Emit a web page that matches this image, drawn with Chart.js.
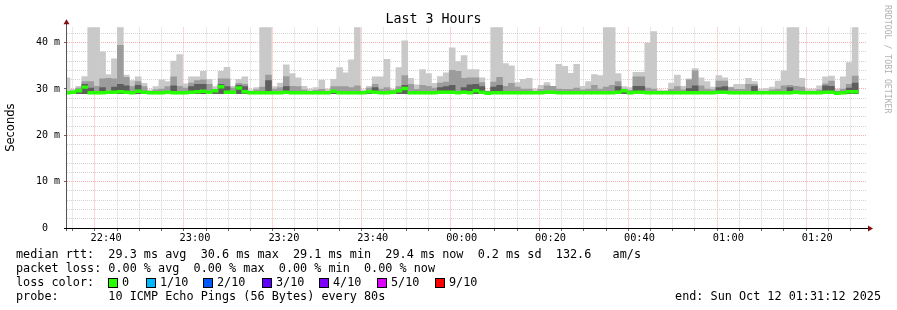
<!DOCTYPE html>
<html>
<head>
<meta charset="utf-8">
<script src="https://cdn.jsdelivr.net/npm/chart.js@4.4.1/dist/chart.umd.min.js"></script>
<style>
  body { margin: 0; background: #fff; }
  #wrap { position: relative; width: 897px; height: 310px; overflow: hidden; }
  #chart { position: absolute; left: 0; top: 0; }
  .line { position: absolute; font-family: 'DejaVu Sans Mono', monospace; font-size: 11.8px; line-height: 14px; color: #000; white-space: pre; }
  .box { position: absolute; width: 8px; height: 8px; border: 1px solid #000; top: 278px; }
  #mark { position: absolute; left: 893px; top: 5px; transform: rotate(90deg); transform-origin: top left; font-family: 'DejaVu Sans Mono', monospace; font-size: 8.2px; color: #b0b0b0; white-space: pre; }
</style>
</head>
<body>
<div id="wrap">
  <canvas id="chart" width="897" height="310"></canvas>
  <div class="line" style="left:16px;top:247px">median rtt:  29.3 ms avg  30.6 ms max  29.1 ms min  29.4 ms now  0.2 ms sd  132.6   am/s</div>
  <div class="line" style="left:16px;top:261px">packet loss: 0.00 % avg  0.00 % max  0.00 % min  0.00 % now</div>
  <div class="line" style="left:16px;top:275px">loss color:</div>
  <div id="lossRow"></div>
  <div class="line" style="left:16px;top:289px">probe:       10 ICMP Echo Pings (56 Bytes) every 80s</div>
  <div class="line" style="right:16px;top:289px">end: Sun Oct 12 01:31:12 2025</div>
  <div id="mark">RRDTOOL / TOBI OETIKER</div>
</div>
<script>
const _ = (id) => document.getElementById(id)

// one sample every 80 s, first sample at the graph start (22:31:12)
const stepSeconds = 80
const startClock = '22:31:12'
const smokeFloor = 29.0

// top of the lightest smoke (max ping), ms
const maxRtt = [
  32.4, 29.9, 30.6, 32.7, 43.3, 43.3, 38.0, 33.1, 36.5, 43.3,
  33.0, 31.8, 32.6, 31.2, 29.8, 30.5, 32.0, 31.6, 36.0, 37.4,
  31.1, 32.6, 32.6, 33.8, 32.1, 30.5, 33.8, 34.7, 30.6, 32.1,
  32.6, 29.8, 30.3, 43.3, 43.3, 30.5, 31.3, 35.2, 33.3, 32.4,
  30.6, 30.0, 30.3, 31.9, 30.0, 32.1, 34.6, 33.5, 36.3, 43.3,
  29.8, 30.6, 32.6, 32.6, 36.4, 30.0, 34.6, 40.4, 32.3, 30.9,
  34.2, 33.3, 31.2, 32.7, 33.5, 38.9, 35.9, 37.2, 34.2, 34.2,
  32.4, 29.6, 43.3, 43.3, 35.5, 35.0, 31.4, 32.1, 32.3, 30.0,
  30.8, 31.4, 30.6, 35.3, 34.9, 33.4, 35.3, 30.6, 31.6, 33.1,
  32.9, 43.3, 43.3, 33.3, 30.5, 30.3, 33.6, 33.6, 39.9, 42.4,
  29.8, 29.7, 31.3, 33.0, 30.6, 32.2, 34.4, 32.4, 31.6, 30.4,
  32.9, 32.4, 30.4, 31.0, 31.0, 32.3, 31.6, 30.0, 30.1, 30.4,
  31.7, 33.9, 43.3, 43.3, 32.3, 30.0, 30.0, 30.7, 32.6, 32.8,
  30.0, 32.6, 35.7, 43.3,
]

// top of the medium smoke band
const midRtt = [
  29.4, 29.4, 30.2, 31.6, 31.6, 30.6, 32.2, 32.3, 32.2, 39.4,
  32.5, 30.5, 31.6, 30.5, 29.4, 29.8, 30.0, 30.5, 32.6, 30.6,
  30.2, 31.3, 31.8, 32.0, 31.0, 29.9, 32.2, 32.2, 30.2, 31.2,
  31.0, 29.4, 29.8, 30.4, 33.0, 30.0, 30.3, 32.7, 30.6, 30.5,
  29.8, 29.4, 29.7, 29.9, 29.4, 30.5, 30.5, 30.5, 30.3, 30.7,
  29.4, 30.2, 31.0, 30.0, 30.3, 29.7, 30.5, 32.9, 31.0, 29.9,
  30.8, 30.6, 30.2, 31.3, 31.5, 34.0, 33.8, 32.3, 32.4, 32.4,
  31.4, 29.4, 31.5, 32.5, 30.6, 31.2, 30.4, 30.0, 30.0, 29.4,
  29.9, 30.7, 30.6, 30.0, 29.9, 29.9, 30.2, 29.8, 30.0, 30.8,
  30.0, 30.4, 30.8, 31.6, 30.0, 29.7, 32.6, 32.6, 30.2, 30.0,
  29.4, 29.4, 29.9, 30.5, 29.8, 32.0, 33.9, 30.7, 30.0, 29.8,
  31.7, 31.7, 30.3, 29.9, 29.9, 31.0, 31.0, 29.4, 29.4, 29.8,
  30.0, 30.7, 30.8, 30.6, 30.4, 29.4, 29.4, 29.8, 31.1, 31.7,
  29.4, 30.0, 31.0, 32.8,
]

// top of the dark smoke band
const darkRtt = [
  29.4, 29.4, 29.8, 31.0, 30.2, 29.4, 30.3, 29.4, 30.4, 31.0,
  30.7, 29.4, 30.8, 29.4, 29.4, 29.4, 29.4, 29.4, 30.7, 29.4,
  29.4, 30.5, 31.0, 31.0, 29.4, 29.4, 31.0, 30.5, 29.4, 30.8,
  30.5, 29.4, 29.4, 29.4, 31.8, 29.4, 29.4, 30.5, 29.4, 29.4,
  29.4, 29.4, 29.4, 29.4, 29.4, 29.4, 29.4, 29.4, 29.4, 29.4,
  29.4, 29.4, 30.3, 29.4, 29.4, 29.4, 29.4, 30.8, 29.4, 29.4,
  29.4, 29.4, 29.4, 30.3, 30.5, 30.8, 29.4, 30.3, 30.9, 31.0,
  30.5, 29.4, 30.4, 30.8, 29.4, 29.4, 29.4, 29.4, 29.4, 29.4,
  29.4, 29.4, 29.4, 29.4, 29.4, 29.4, 29.4, 29.4, 29.4, 29.4,
  29.4, 29.4, 29.4, 30.5, 29.4, 29.4, 30.6, 30.6, 29.4, 29.4,
  29.4, 29.4, 29.4, 29.4, 29.4, 30.1, 30.7, 29.4, 29.4, 29.4,
  30.3, 30.5, 29.4, 29.4, 29.4, 29.4, 30.6, 29.4, 29.4, 29.4,
  29.4, 29.4, 30.3, 29.4, 29.4, 29.4, 29.4, 29.4, 30.7, 30.6,
  29.4, 29.4, 30.2, 31.3,
]

// median rtt (0 loss everywhere)
const medianRtt = [
  29.2, 29.3, 29.6, 30.4, 29.2, 29.2, 29.2, 29.3, 29.3, 29.4,
  29.3, 29.2, 29.5, 29.3, 29.2, 29.2, 29.2, 29.3, 29.2, 29.2,
  29.2, 29.3, 29.4, 29.5, 29.3, 29.6, 30.5, 29.3, 29.3, 30.2,
  29.4, 29.2, 29.2, 29.2, 29.2, 29.2, 29.2, 29.3, 29.2, 29.2,
  29.2, 29.2, 29.2, 29.2, 29.2, 29.5, 29.2, 29.2, 29.2, 29.2,
  29.2, 29.4, 29.3, 29.2, 29.2, 29.3, 29.6, 30.1, 29.2, 29.2,
  29.2, 29.2, 29.2, 29.3, 29.3, 29.3, 29.2, 29.3, 29.2, 29.6,
  29.3, 29.1, 29.2, 29.2, 29.2, 29.2, 29.2, 29.2, 29.2, 29.2,
  29.2, 29.3, 29.3, 29.2, 29.2, 29.2, 29.2, 29.2, 29.2, 29.2,
  29.2, 29.2, 29.2, 29.3, 29.6, 29.2, 29.3, 29.3, 29.2, 29.2,
  29.2, 29.2, 29.2, 29.2, 29.2, 29.2, 29.2, 29.2, 29.2, 29.2,
  29.3, 29.3, 29.2, 29.2, 29.2, 29.2, 29.2, 29.2, 29.2, 29.2,
  29.2, 29.2, 29.2, 29.3, 29.2, 29.2, 29.2, 29.2, 29.3, 29.3,
  29.1, 29.2, 29.4, 29.4,
]

const lossColors = ['#26ff00', '#00b8ff', '#0059ff', '#5e00ff', '#7e00ff', '#dd00ff', '#ff0000']
const lossLabels = ['0', '1/10', '2/10', '3/10', '4/10', '5/10', '9/10']
const lossBoxX = [108, 146, 203, 262, 319, 377, 435]

const [sh, sm, ss] = startClock.split(':').map(Number)
const startMin = sh * 60 + sm + ss / 60
const spanMin = 180
const stepMin = stepSeconds / 60
const firstMark = 5 - (startMin % 5)

const clockOf = (v) => {
  const m = Math.round(startMin + v) % 1440
  return { h: Math.floor(m / 60), m: m % 60 }
}
const isMajorX = (v) => clockOf(v).m % 20 === 0
const band = (lo, hi) => hi.map((v, i) => ({ x: i * stepMin, y: [typeof lo === 'number' ? lo : lo[i], v] }))

// loss colour legend
_('lossRow').innerHTML = lossColors
  .map((c, i) => {
    return `<div class="box" style="left:${lossBoxX[i]}px;background:${c}"></div>` +
      `<div class="line" style="left:${lossBoxX[i] + 14}px;top:275px">${lossLabels[i]}</div>`
  })
  .join('')

const barBase = {
  type: 'bar',
  grouped: false,
  barPercentage: 1,
  categoryPercentage: 1,
  borderWidth: 0,
}

const decor = {
  id: 'decor',
  beforeDraw(chart) {
    const ctx = chart.ctx
    ctx.save()
    ctx.fillStyle = '#fff'
    ctx.fillRect(0, 0, chart.width, chart.height)
    ctx.restore()
  },
  afterDraw(chart) {
    const { ctx, chartArea: a } = chart
    ctx.save()
    ctx.strokeStyle = '#555'
    ctx.lineWidth = 1
    ctx.beginPath()
    ctx.moveTo(a.left - 0.5, a.bottom + 3)
    ctx.lineTo(a.left - 0.5, a.top - 4)
    ctx.stroke()
    ctx.strokeStyle = '#000'
    ctx.beginPath()
    ctx.moveTo(a.left - 3, a.bottom + 0.5)
    ctx.lineTo(a.right + 3, a.bottom + 0.5)
    ctx.stroke()
    ctx.fillStyle = '#7f1010'
    ctx.beginPath()
    ctx.moveTo(a.left - 3.5, a.top - 3)
    ctx.lineTo(a.left + 2.5, a.top - 3)
    ctx.lineTo(a.left - 0.5, a.top - 8)
    ctx.fill()
    ctx.beginPath()
    ctx.moveTo(a.right + 1, a.bottom - 2.5)
    ctx.lineTo(a.right + 1, a.bottom + 3.5)
    ctx.lineTo(a.right + 6, a.bottom + 0.5)
    ctx.fill()
    ctx.restore()
  },
}

const mono = "'DejaVu Sans Mono', monospace"
const majorGrid = 'rgba(255,140,140,0.7)'
const minorGrid = 'rgba(200,200,200,0.8)'

new Chart(_('chart'), {
  type: 'bar',
  data: {
    datasets: [
      { ...barBase, label: 'median', data: band(medianRtt.map((v) => v - 0.3), medianRtt.map((v) => v + 0.3)), backgroundColor: lossColors[0], order: 0 },
      { ...barBase, label: 'dark', data: band(smokeFloor, darkRtt), backgroundColor: '#5e5e5e', order: 1 },
      { ...barBase, label: 'mid', data: band(smokeFloor, midRtt), backgroundColor: '#9c9c9c', order: 2 },
      { ...barBase, label: 'light', data: band(smokeFloor, maxRtt), backgroundColor: '#c9c9c9', order: 3 },
    ],
  },
  options: {
    responsive: false,
    animation: false,
    layout: { padding: { left: 0, right: 30, top: 0, bottom: 0 } },
    plugins: {
      legend: { display: false },
      tooltip: { enabled: false },
      title: {
        display: true,
        text: 'Last 3 Hours',
        color: '#000',
        font: { family: mono, size: 13.3, weight: 'normal' },
        padding: { top: 11.4, bottom: 0 },
      },
    },
    scales: {
      x: {
        type: 'linear',
        min: 0,
        max: spanMin,
        offset: false,
        z: 1,
        afterBuildTicks(scale) {
          const ticks = []
          for (let v = firstMark; v <= spanMin; v += 5) ticks.push({ value: v })
          scale.ticks = ticks
        },
        afterFit(scale) {
          scale.height = 82
        },
        ticks: {
          autoSkip: false,
          maxRotation: 0,
          minRotation: 0,
          padding: 1,
          color: '#000',
          font: { family: mono, size: 10.3 },
          callback: (v) => {
            if (!isMajorX(v)) return ''
            const c = clockOf(v)
            return String(c.h).padStart(2, '0') + ':' + String(c.m).padStart(2, '0')
          },
        },
        grid: {
          color: (ctx) => (ctx.tick && isMajorX(ctx.tick.value) ? majorGrid : minorGrid),
          tickLength: 3,
          tickColor: '#666',
          tickBorderDash: [],
        },
        border: { display: false, dash: [1, 1] },
      },
      y: {
        min: 0,
        max: 43.3,
        z: 1,
        afterFit(scale) {
          scale.width = 67
        },
        ticks: {
          stepSize: 2,
          autoSkip: false,
          includeBounds: false,
          padding: 4,
          color: '#000',
          font: { family: mono, size: 10 },
          callback: (v) => (v % 10 === 0 ? (v === 0 ? '0  ' : v + ' m') : ''),
        },
        grid: {
          color: (ctx) => (ctx.tick && ctx.tick.value % 10 === 0 ? majorGrid : minorGrid),
          tickLength: 3,
          tickColor: (ctx) => (ctx.tick && ctx.tick.value % 10 === 0 ? '#666' : 'rgba(0,0,0,0)'),
          tickBorderDash: [],
        },
        border: { display: false, dash: [1, 1] },
        title: {
          display: true,
          text: 'Seconds',
          color: '#000',
          font: { family: "'DejaVu Sans', sans-serif", size: 11.5 },
          padding: { top: 4, bottom: 0 },
        },
      },
    },
  },
  plugins: [decor],
})
</script>
</body>
</html>
